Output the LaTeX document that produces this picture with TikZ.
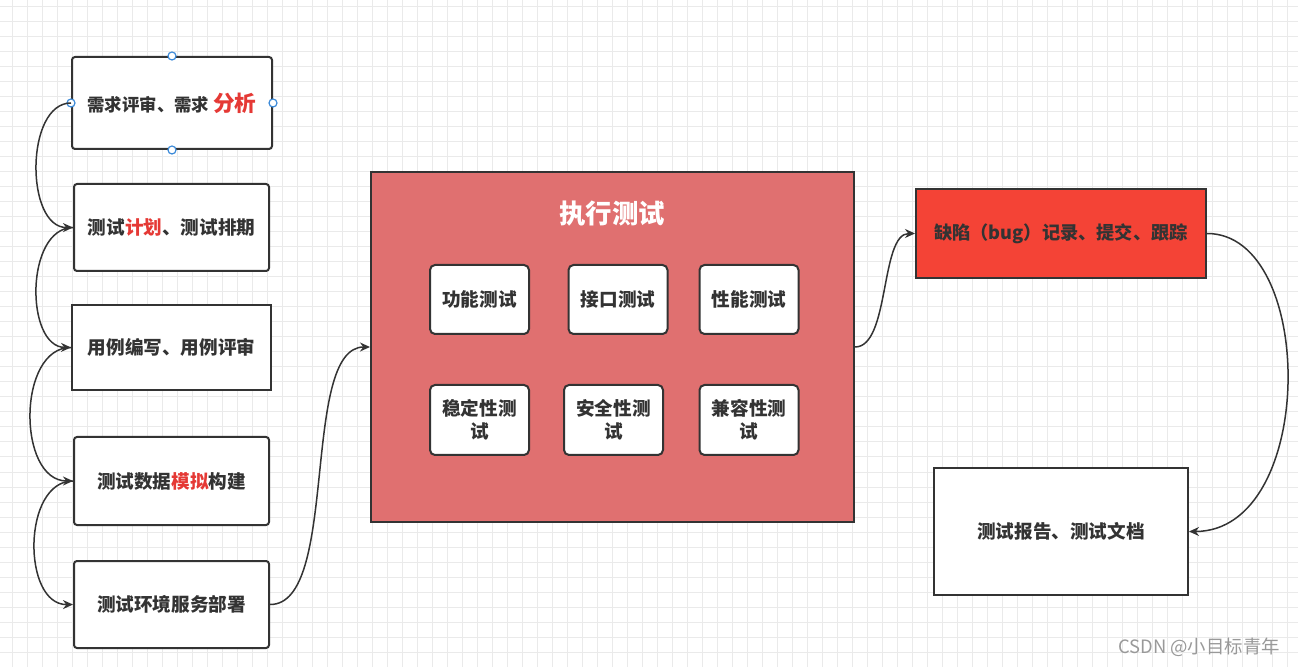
\documentclass[tikz,border=0pt]{standalone}
\usepackage{fontspec}
\setmainfont{Noto Sans CJK SC}
\usetikzlibrary{arrows.meta}
\definecolor{txt}{HTML}{333333}
\definecolor{bigred}{HTML}{E07070}
\definecolor{bugred}{HTML}{F44336}
\definecolor{gridc}{HTML}{EAEAEA}
\definecolor{handlec}{HTML}{3D8BD9}
\definecolor{hl}{HTML}{E53935}
\definecolor{wm}{HTML}{999999}
\begin{document}
\begin{tikzpicture}[x=0.5pt,y=-0.5pt,
  box/.style={draw=txt, line width=1pt, fill=white, text=txt, font=\bfseries\fontsize{9.3}{11}\selectfont, inner sep=0pt},
  lbox/.style={box, minimum width=97.5pt, minimum height=43.5pt, rounded corners=1.5pt},
  inbox/.style={box, minimum width=49.5pt, minimum height=34.5pt, rounded corners=2.5pt, align=center, font=\bfseries\fontsize{9.3}{11.5}\selectfont},
  conn/.style={draw=txt, line width=0.75pt, -{Stealth[length=5pt,width=4.5pt]}},
  handle/.style={circle, draw=handlec, fill=white, line width=0.6pt, minimum size=4pt, inner sep=0pt}]
\useasboundingbox (0,0) rectangle (1310,667);
\fill[white] (0,0) rectangle (1310,667);
\foreach \x in {12,27,...,1297} \draw[gridc, line width=0.5pt] (\x,0) -- (\x,667);
\foreach \y in {7,22,...,667} \draw[gridc, line width=0.5pt] (0,\y) -- (1298,\y);

% left column
\node[lbox, minimum width=100pt, minimum height=46pt, font=\bfseries\fontsize{8.7}{11}\selectfont] (b1) at (172,103)
  {需求评审、需求 \textcolor{hl}{\fontsize{10.8}{12}\selectfont 分析}};
\node[lbox] (b2) at (171.5,227.5) {测试\textcolor{hl}{计划}、测试排期};
\node[lbox, minimum width=99.5pt, minimum height=42.5pt, rounded corners=0pt] (b3) at (171.5,347.5) {用例编写、用例评审};
\node[lbox, minimum height=44pt] (b4) at (171.5,481) {测试数据\textcolor{hl}{模拟}构建};
\node[lbox] (b5) at (171.5,604.5) {测试环境服务部署};

% selection handles
\node[handle] (hn) at (b1.north) {};
\node[handle] (hs) at (b1.south) {};
\node[handle] (hw) at (b1.west) {};
\node[handle] (he) at (b1.east) {};

% execution box
\node[draw=txt, line width=1pt, fill=bigred, minimum width=241.5pt, minimum height=175pt, inner sep=0pt] (big) at (612.5,347) {};
\node[text=white, font=\bfseries\fontsize{13.2}{15}\selectfont] (title) at (612,214) {执行测试};
\node[inbox] (i1) at (479.5,299.5) {功能测试};
\node[inbox] (i2) at (618,299.5) {接口测试};
\node[inbox] (i3) at (749,299.5) {性能测试};
\node[inbox, minimum height=35pt] (i4) at (479.5,420) {稳定性测\\试};
\node[inbox, minimum height=35pt] (i5) at (613.5,420) {安全性测\\试};
\node[inbox, minimum height=35pt] (i6) at (749,420) {兼容性测\\试};

% right column
\node[box, fill=bugred, minimum width=145pt, minimum height=44.5pt, font=\bfseries\fontsize{9.1}{11}\selectfont] (bug) at (1061,233.5) {缺陷（bug）记录、提交、跟踪};
\node[box, minimum width=127pt, minimum height=63.5pt] (rep) at (1061,531.5) {测试报告、测试文档};

% connectors
\draw[conn] (b1.west) .. controls (25,103) and (25,228) .. (b2.west);
\draw[conn] (b2.west) .. controls (25,228) and (25,347) .. (b3.west);
\draw[conn] (b3.west) .. controls (17,347) and (17,481) .. (b4.west);
\draw[conn] (b4.west) .. controls (22,481) and (22,605) .. (b5.west);
\draw[conn] (b5.east) .. controls (340,605) and (300,347) .. (big.west);
\draw[conn] (big.east) .. controls (890,347) and (880,233.5) .. (bug.west);
\draw[conn] (bug.east) .. controls (1317,233.5) and (1317,531.5) .. (rep.east);

\node[text=wm, font=\fontsize{9.2}{11}\selectfont] (wmk) at (1199,647) {CSDN @小目标青年};
\end{tikzpicture}
\end{document}
